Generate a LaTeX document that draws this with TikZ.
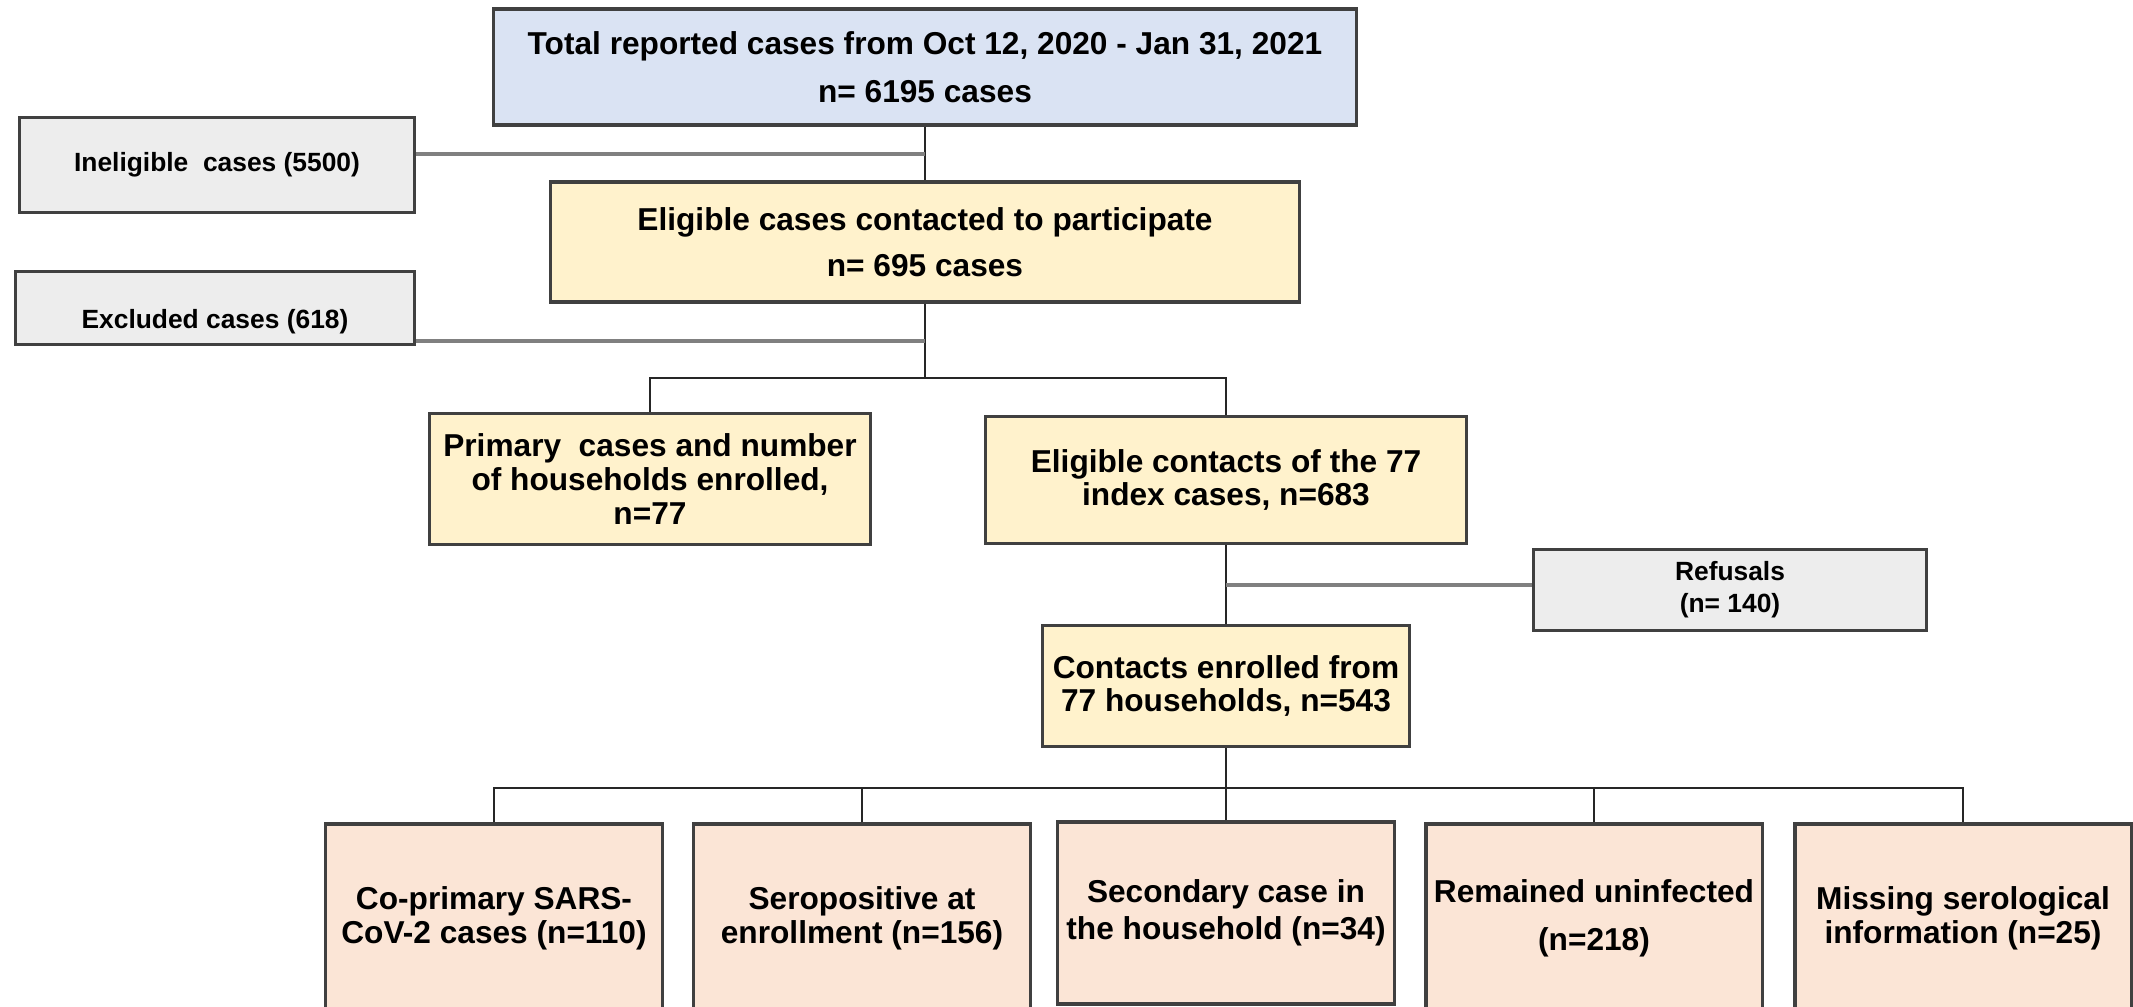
\documentclass[tikz,border=0pt]{standalone}
\usepackage{fontspec}
\setmainfont{Liberation Sans}
\usepackage{xcolor}
\usepackage{tikz}
\definecolor{bluefill}{HTML}{DAE3F3}
\definecolor{yelfill}{HTML}{FFF2CC}
\definecolor{grayfill}{HTML}{EDEDED}
\definecolor{peachfill}{HTML}{FBE5D6}
\tikzset{
  box/.style={draw=black!75,line width=0.9pt,fill=#1,inner sep=1pt,align=center,font=\fontsize{9}{9.6}\selectfont\bfseries},
  box/.default={yelfill},
  gbox/.style={box=grayfill,font=\fontsize{7.5}{9.2}\selectfont\bfseries},
  obox/.style={box=peachfill,minimum width=3.36cm,minimum height=1.88cm},
  conn/.style={draw=black!85,line width=0.7pt},
  side/.style={draw=black!50,line width=0.9pt},
}

\begin{document}
\begin{tikzpicture}[x=0.01cm,y=-0.01cm]
 \clip (0,0) rectangle (2133,1007);
 % screening
 \node[box=bluefill,minimum width=8.62cm,minimum height=1.16cm] (top) at (925,67) {Total reported cases from Oct 12, 2020 - Jan 31, 2021\\[4pt] n= 6195 cases};
 \node[gbox,minimum width=3.94cm,minimum height=0.95cm] (inelig) at (217,165) {Ineligible\ \ cases (5500)};
 \node[box,minimum width=7.49cm,minimum height=1.20cm] (elig) at (925,242) {Eligible cases contacted to participate\\[3.5pt] n= 695 cases};
 \node[gbox,minimum width=3.99cm,minimum height=0.73cm,text height=13pt] (excl) at (215,308) {Excluded cases (618)};
 % enrolment
 \node[box,minimum width=4.41cm,minimum height=1.31cm] (prim) at (650,479) {Primary\ \ cases and number\\ of households enrolled,\\ n=77};
 \node[box,minimum width=4.80cm,minimum height=1.27cm] (contacts) at (1226,480) {Eligible contacts of the 77\\ index cases, n=683};
 \node[gbox,minimum width=3.93cm,minimum height=0.81cm] (refus) at (1730,590) {Refusals\\ (n= 140)};
 \node[box,minimum width=3.66cm,minimum height=1.21cm] (enrol) at (1226,686) {Contacts enrolled from\\ 77 households, n=543};
 % outcomes
 \node[obox] (coprim) at (494,918) {Co-primary SARS-\\ CoV-2 cases (n=110)};
 \node[obox] (seropos) at (862,918) {Seropositive at\\ enrollment (n=156)};
 \node[obox,minimum height=1.82cm] (second) at (1226,913) {Secondary case in\\[1pt] the household (n=34)};
 \node[obox] (uninf) at (1594,918) {Remained uninfected\\[4pt] (n=218)};
 \node[obox] (missing) at (1963,918) {Missing serological\\ information (n=25)};
 % connectors
 \coordinate (j1) at (top.south |- 0,154);
 \coordinate (j2) at (elig.south |- 0,341);
 \coordinate (b1) at (elig.south |- 0,378);
 \coordinate (j3) at (contacts.south |- 0,585);
 \coordinate (b2) at (enrol.south |- 0,788);
 \draw[conn] (top) -- (elig);
 \draw[side] (inelig.east |- j1) -- (j1);
 \draw[conn] (elig.south) -- (b1);
 \draw[side] (excl.east |- j2) -- (j2);
 \draw[conn] (prim.north) |- (b1) -| (contacts.north);
 \draw[conn] (contacts) -- (enrol);
 \draw[side] (refus.west |- j3) -- (j3);
 \draw[conn] (enrol.south) -- (b2);
 \draw[conn] (coprim.north) |- (b2) -| (missing.north);
 \foreach \n in {seropos,second,uninf}
  \draw[conn] (\n.north) -- (\n.north |- b2);
\end{tikzpicture}
\end{document}
